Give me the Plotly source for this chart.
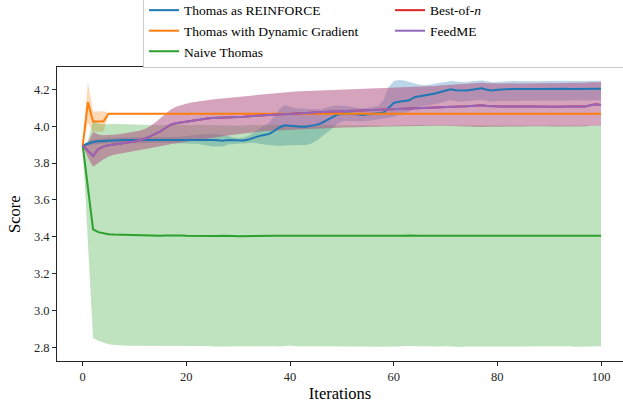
import plotly.graph_objects as go

iterations = list(range(101))

reinforce_mean = [
    3.895, 3.905, 3.914, 3.918, 3.920, 3.922, 3.923, 3.924, 3.925, 3.925,
    3.925, 3.926, 3.925, 3.924, 3.925, 3.926, 3.926, 3.925, 3.924, 3.925,
    3.926, 3.927, 3.928, 3.927, 3.926, 3.925, 3.923, 3.921, 3.925, 3.924,
    3.920, 3.922, 3.928, 3.938, 3.946, 3.952, 3.958, 3.975, 3.994, 4.005,
    4.001, 3.998, 3.997, 3.997, 4.000, 4.007, 4.016, 4.030, 4.047, 4.061,
    4.068, 4.070, 4.067, 4.063, 4.060, 4.064, 4.069, 4.070, 4.073, 4.100,
    4.126, 4.133, 4.135, 4.140, 4.157, 4.162, 4.165, 4.170, 4.177, 4.185,
    4.194, 4.200, 4.195, 4.193, 4.193, 4.198, 4.202, 4.205, 4.198, 4.193,
    4.197, 4.200, 4.200, 4.202, 4.201, 4.200, 4.203, 4.202, 4.201, 4.202,
    4.203, 4.202, 4.203, 4.203, 4.202, 4.202, 4.203, 4.203, 4.202, 4.203,
    4.203]
reinforce_lo = [
    3.895, 3.893, 3.900, 3.903, 3.905, 3.907, 3.908, 3.909, 3.910, 3.910,
    3.910, 3.910, 3.909, 3.908, 3.909, 3.910, 3.910, 3.909, 3.907, 3.906,
    3.905, 3.905, 3.904, 3.900, 3.895, 3.890, 3.888, 3.890, 3.900, 3.905,
    3.905, 3.906, 3.908, 3.910, 3.905, 3.900, 3.896, 3.894, 3.893, 3.895,
    3.897, 3.898, 3.898, 3.898, 3.905, 3.920, 3.940, 3.960, 3.985, 4.010,
    4.025, 4.030, 4.030, 4.027, 4.025, 4.028, 4.032, 4.035, 4.040, 4.045,
    4.050, 4.060, 4.070, 4.080, 4.095, 4.105, 4.110, 4.115, 4.120, 4.125,
    4.135, 4.140, 4.135, 4.133, 4.133, 4.137, 4.140, 4.142, 4.137, 4.133,
    4.136, 4.138, 4.138, 4.140, 4.139, 4.138, 4.140, 4.139, 4.138, 4.139,
    4.140, 4.139, 4.140, 4.140, 4.139, 4.139, 4.140, 4.140, 4.139, 4.140,
    4.140]
reinforce_hi = [
    3.895, 3.917, 3.928, 3.933, 3.935, 3.937, 3.938, 3.939, 3.940, 3.940,
    3.940, 3.942, 3.941, 3.940, 3.941, 3.942, 3.942, 3.941, 3.941, 3.944,
    3.947, 3.949, 3.952, 3.954, 3.957, 3.960, 3.958, 3.952, 3.950, 3.943,
    3.935, 3.938, 3.948, 3.966, 3.987, 4.004, 4.020, 4.056, 4.095, 4.115,
    4.105, 4.098, 4.096, 4.096, 4.095, 4.094, 4.092, 4.100, 4.109, 4.112,
    4.111, 4.110, 4.104, 4.099, 4.095, 4.100, 4.106, 4.110, 4.140, 4.210,
    4.245, 4.250, 4.248, 4.240, 4.230, 4.225, 4.222, 4.225, 4.230, 4.235,
    4.240, 4.245, 4.242, 4.238, 4.238, 4.243, 4.246, 4.248, 4.243, 4.238,
    4.240, 4.243, 4.243, 4.245, 4.244, 4.243, 4.246, 4.245, 4.244, 4.245,
    4.246, 4.245, 4.246, 4.246, 4.245, 4.245, 4.246, 4.246, 4.245, 4.246,
    4.246]

dynamic_mean = [
    3.895, 4.130, 4.025, 4.024, 4.026, 4.068, 4.069, 4.068, 4.068, 4.067,
    4.067, 4.068, 4.068, 4.067, 4.067, 4.068, 4.069, 4.068, 4.067, 4.067,
    4.068, 4.068, 4.067, 4.068, 4.069, 4.068, 4.067, 4.068, 4.068, 4.067,
    4.067, 4.068, 4.069, 4.068, 4.067, 4.067, 4.068, 4.068, 4.067, 4.068,
    4.068, 4.067, 4.067, 4.068, 4.069, 4.068, 4.067, 4.068, 4.068, 4.067,
    4.068, 4.068, 4.067, 4.067, 4.068, 4.069, 4.068, 4.067, 4.067, 4.068,
    4.068, 4.067, 4.068, 4.069, 4.068, 4.067, 4.067, 4.068, 4.068, 4.067,
    4.068, 4.069, 4.068, 4.067, 4.067, 4.068, 4.068, 4.067, 4.068, 4.068,
    4.067, 4.067, 4.068, 4.069, 4.068, 4.067, 4.068, 4.068, 4.067, 4.067,
    4.068, 4.068, 4.067, 4.068, 4.069, 4.068, 4.067, 4.067, 4.068, 4.068,
    4.068]
dynamic_std = [
    0.0, 0.110, 0.055, 0.055, 0.055, 0.004, 0.004, 0.003, 0.003, 0.003,
    0.003, 0.003, 0.003, 0.003, 0.003, 0.003, 0.003, 0.003, 0.003, 0.003,
    0.003, 0.003, 0.003, 0.003, 0.003, 0.003, 0.003, 0.003, 0.003, 0.003,
    0.003, 0.003, 0.003, 0.003, 0.003, 0.003, 0.003, 0.003, 0.003, 0.003,
    0.003, 0.003, 0.003, 0.003, 0.003, 0.003, 0.003, 0.003, 0.003, 0.003,
    0.003, 0.003, 0.003, 0.003, 0.003, 0.003, 0.003, 0.003, 0.003, 0.003,
    0.003, 0.003, 0.003, 0.003, 0.003, 0.003, 0.003, 0.003, 0.003, 0.003,
    0.003, 0.003, 0.003, 0.003, 0.003, 0.003, 0.003, 0.003, 0.003, 0.003,
    0.003, 0.003, 0.003, 0.003, 0.003, 0.003, 0.003, 0.003, 0.003, 0.003,
    0.003, 0.003, 0.003, 0.003, 0.003, 0.003, 0.003, 0.003, 0.003, 0.003,
    0.003]

naive_mean = [
    3.895, 3.650, 3.440, 3.425, 3.418, 3.414, 3.412, 3.411, 3.410, 3.409,
    3.408, 3.408, 3.407, 3.407, 3.406, 3.406, 3.407, 3.408, 3.408, 3.407,
    3.406, 3.405, 3.406, 3.407, 3.406, 3.405, 3.404, 3.405, 3.406, 3.404,
    3.402, 3.403, 3.405, 3.406, 3.405, 3.405, 3.406, 3.406, 3.405, 3.406,
    3.409, 3.406, 3.405, 3.405, 3.406, 3.405, 3.405, 3.406, 3.405, 3.404,
    3.405, 3.406, 3.405, 3.405, 3.404, 3.405, 3.405, 3.404, 3.402, 3.403,
    3.405, 3.405, 3.406, 3.407, 3.408, 3.406, 3.405, 3.405, 3.405, 3.405,
    3.406, 3.405, 3.404, 3.403, 3.404, 3.405, 3.406, 3.406, 3.405, 3.406,
    3.406, 3.405, 3.404, 3.405, 3.405, 3.403, 3.404, 3.405, 3.406, 3.406,
    3.405, 3.404, 3.404, 3.405, 3.406, 3.404, 3.405, 3.405, 3.406, 3.405,
    3.405]
naive_std = [
    0.0, 0.270, 0.590, 0.590, 0.593, 0.598, 0.600, 0.601, 0.600, 0.601,
    0.600, 0.599, 0.600, 0.601, 0.600, 0.599, 0.600, 0.600, 0.601, 0.600,
    0.599, 0.600, 0.601, 0.600, 0.599, 0.600, 0.601, 0.602, 0.600, 0.599,
    0.600, 0.601, 0.602, 0.601, 0.600, 0.599, 0.600, 0.600, 0.601, 0.600,
    0.599, 0.600, 0.601, 0.600, 0.599, 0.601, 0.602, 0.600, 0.599, 0.600,
    0.600, 0.601, 0.600, 0.599, 0.600, 0.601, 0.602, 0.600, 0.599, 0.600,
    0.601, 0.600, 0.599, 0.600, 0.600, 0.601, 0.600, 0.599, 0.600, 0.601,
    0.600, 0.599, 0.600, 0.601, 0.600, 0.599, 0.600, 0.600, 0.601, 0.600,
    0.599, 0.600, 0.601, 0.600, 0.599, 0.600, 0.601, 0.600, 0.599, 0.600,
    0.600, 0.601, 0.600, 0.599, 0.600, 0.601, 0.600, 0.599, 0.600, 0.600,
    0.599]

feedme_mean = [
    3.895, 3.868, 3.838, 3.876, 3.889, 3.897, 3.902, 3.906, 3.910, 3.913,
    3.917, 3.923, 3.932, 3.945, 3.958, 3.972, 3.990, 4.008, 4.016, 4.021,
    4.026, 4.030, 4.036, 4.039, 4.042, 4.044, 4.046, 4.048, 4.049, 4.050,
    4.050, 4.051, 4.052, 4.054, 4.057, 4.059, 4.061, 4.063, 4.065, 4.067,
    4.068, 4.069, 4.071, 4.072, 4.073, 4.075, 4.076, 4.077, 4.078, 4.079,
    4.080, 4.081, 4.082, 4.083, 4.084, 4.085, 4.086, 4.087, 4.089, 4.090,
    4.091, 4.092, 4.093, 4.094, 4.095, 4.097, 4.098, 4.099, 4.100, 4.102,
    4.104, 4.105, 4.106, 4.107, 4.108, 4.110, 4.112, 4.114, 4.110, 4.108,
    4.107, 4.106, 4.107, 4.106, 4.106, 4.105, 4.106, 4.107, 4.106, 4.106,
    4.106, 4.106, 4.105, 4.106, 4.107, 4.106, 4.105, 4.107, 4.114, 4.119,
    4.115]
feedme_lo = [
    3.895, 3.830, 3.780, 3.800, 3.820, 3.835, 3.845, 3.852, 3.858, 3.863,
    3.868, 3.872, 3.877, 3.882, 3.887, 3.892, 3.897, 3.903, 3.908, 3.913,
    3.917, 3.921, 3.925, 3.929, 3.933, 3.937, 3.941, 3.945, 3.949, 3.953,
    3.957, 3.961, 3.965, 3.968, 3.971, 3.974, 3.976, 3.978, 3.980, 3.982,
    3.983, 3.984, 3.985, 3.986, 3.987, 3.988, 3.989, 3.990, 3.991, 3.992,
    3.993, 3.994, 3.995, 3.995, 3.996, 3.996, 3.997, 3.997, 3.998, 3.998,
    3.999, 3.999, 4.000, 4.000, 4.001, 4.001, 4.002, 4.002, 4.002, 4.003,
    4.003, 4.003, 4.002, 4.001, 4.000, 3.998, 3.996, 3.995, 3.997, 3.999,
    4.000, 4.001, 4.000, 3.999, 3.998, 3.998, 3.999, 4.000, 4.001, 4.000,
    3.999, 3.998, 3.999, 4.000, 4.001, 4.000, 3.999, 4.000, 4.002, 4.003,
    4.002]
feedme_hi = [
    3.895, 3.910, 3.970, 3.955, 3.950, 3.950, 3.953, 3.956, 3.960, 3.964,
    3.968, 3.975, 3.985, 4.000, 4.020, 4.045, 4.070, 4.090, 4.105, 4.115,
    4.122, 4.128, 4.133, 4.137, 4.141, 4.145, 4.148, 4.151, 4.154, 4.157,
    4.160, 4.163, 4.166, 4.169, 4.172, 4.175, 4.178, 4.180, 4.182, 4.184,
    4.186, 4.188, 4.189, 4.190, 4.191, 4.192, 4.193, 4.194, 4.195, 4.196,
    4.197, 4.198, 4.199, 4.200, 4.201, 4.202, 4.203, 4.204, 4.205, 4.206,
    4.207, 4.208, 4.209, 4.210, 4.211, 4.212, 4.214, 4.216, 4.218, 4.220,
    4.222, 4.224, 4.226, 4.228, 4.230, 4.232, 4.234, 4.236, 4.233, 4.230,
    4.231, 4.232, 4.234, 4.233, 4.232, 4.232, 4.233, 4.234, 4.233, 4.232,
    4.233, 4.234, 4.233, 4.232, 4.233, 4.234, 4.235, 4.236, 4.238, 4.240,
    4.238]

# Best-of-n coincides with FeedME in the figure (its red curve is hidden beneath)
bestofn_mean = feedme_mean
bestofn_lo = feedme_lo
bestofn_hi = feedme_hi

x_ticks = [0, 20, 40, 60, 80, 100]
y_ticks = [2.8, 3.0, 3.2, 3.4, 3.6, 3.8, 4.0, 4.2]

series = [
    ("Thomas as REINFORCE", reinforce_mean, reinforce_lo, reinforce_hi, (31, 119, 180), 1),
    ("Thomas with Dynamic Gradient", dynamic_mean,
     [m - s for m, s in zip(dynamic_mean, dynamic_std)],
     [m + s for m, s in zip(dynamic_mean, dynamic_std)], (255, 127, 14), 3),
    ("Naive Thomas", naive_mean,
     [m - s for m, s in zip(naive_mean, naive_std)],
     [m + s for m, s in zip(naive_mean, naive_std)], (44, 160, 44), 5),
    ("Best-of-<i>n</i>", bestofn_mean, bestofn_lo, bestofn_hi, (214, 39, 40), 2),
    ("FeedME", feedme_mean, feedme_lo, feedme_hi, (148, 103, 189), 4),
]

FONT = "Liberation Serif, Times New Roman, serif"

fig = go.Figure()
# shaded bands first
for name, mean, lo, hi, (r, g, b), rank in series:
    fig.add_trace(go.Scatter(
        x=iterations + iterations[::-1], y=hi + lo[::-1],
        fill="toself", fillcolor=f"rgba({r},{g},{b},0.3)",
        line=dict(width=0), mode="lines", showlegend=False, hoverinfo="skip",
    ))
# mean curves on top
for name, mean, lo, hi, (r, g, b), rank in series:
    fig.add_trace(go.Scatter(
        x=iterations, y=mean, mode="lines", name=name, legendrank=rank,
        line=dict(color=f"rgb({r},{g},{b})", width=2),
    ))

axis_common = dict(
    showgrid=False, zeroline=False, showline=True, linecolor="#262626",
    linewidth=1, ticks="outside", ticklen=4, tickwidth=1, tickcolor="#262626",
    tickfont=dict(family=FONT, size=12.5, color="#262626"),
)
fig.update_xaxes(
    range=[-4.96, 104.24], tickvals=x_ticks, ticktext=[str(v) for v in x_ticks],
    mirror=True,
    title=dict(text="Iterations", font=dict(family=FONT, size=16.5, color="#000"), standoff=4),
    **axis_common,
)
fig.update_yaxes(
    range=[2.7257, 4.321], tickvals=y_ticks, ticktext=[f"{v:.1f}" for v in y_ticks],
    **axis_common,
)
fig.add_annotation(
    text="Score", textangle=-90, xref="paper", yref="paper",
    x=-0.076, y=0.5, xanchor="center", yanchor="middle", showarrow=False,
    font=dict(family=FONT, size=16.5, color="#000"),
)
fig.update_layout(
    width=623, height=406,
    margin=dict(l=57, r=0, t=67, b=45, autoexpand=False),
    paper_bgcolor="white", plot_bgcolor="white",
    font=dict(family=FONT),
    legend=dict(
        orientation="h", x=0.152, xanchor="left", y=0.997, yanchor="bottom",
        entrywidth=201, entrywidthmode="pixels",
        bgcolor="white", bordercolor="#cccccc", borderwidth=1,
        font=dict(family=FONT, size=13.5, color="#000"),
        tracegroupgap=0, itemwidth=30,
    ),
    showlegend=True,
)

fig.write_html(
    "out.html",
    config={"displayModeBar": False},
    post_script="document.body.style.margin='0';document.body.style.padding='0';",
)
